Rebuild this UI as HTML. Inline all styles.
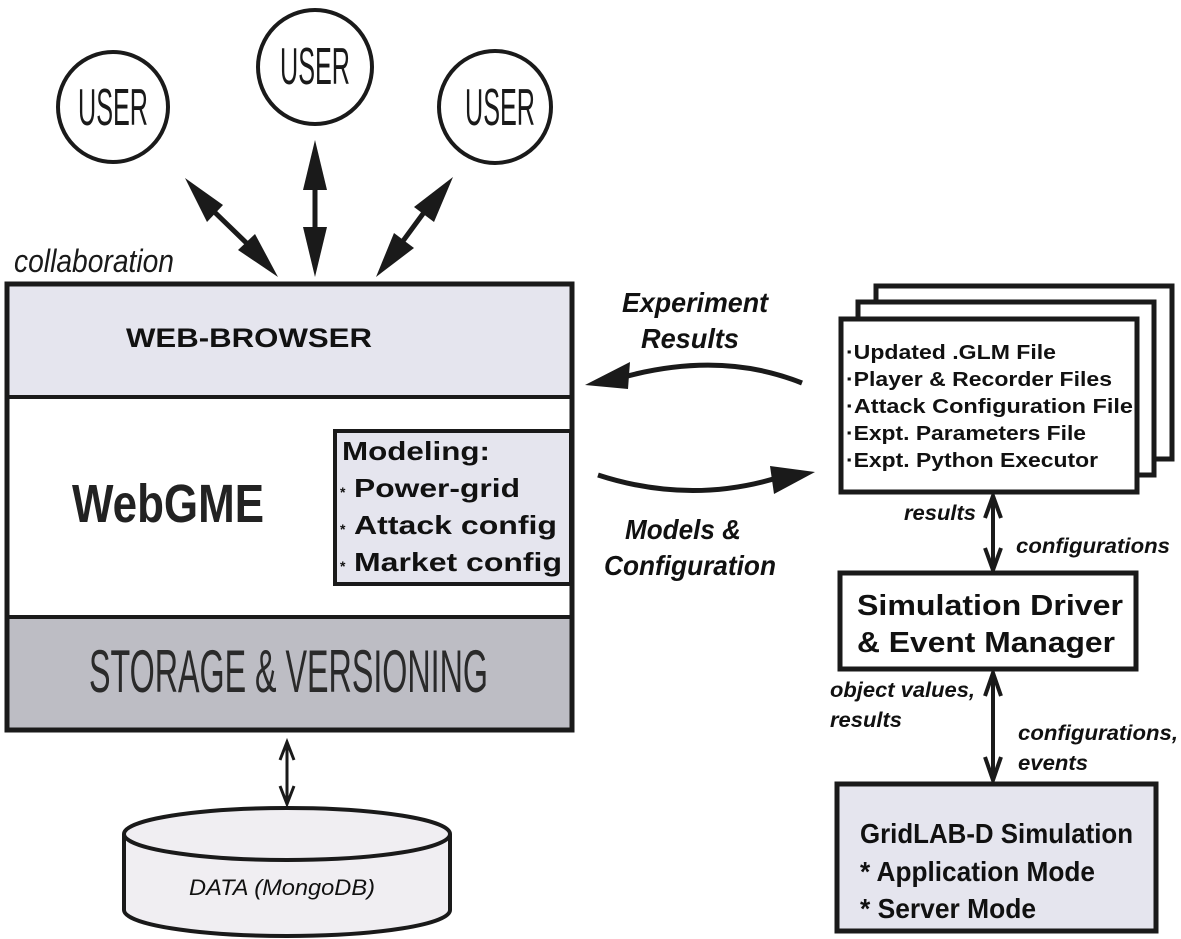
<!DOCTYPE html>
<html><head><meta charset="utf-8"><style>body{margin:0;background:#fff}svg{display:block}</style></head><body>
<svg width="1181" height="939" viewBox="0 0 1181 939" xmlns="http://www.w3.org/2000/svg" font-family="Liberation Sans, sans-serif">
<!-- users -->
<g fill="#fff" stroke="#1a1a1a" stroke-width="4">
<circle cx="113" cy="107" r="55"/>
<circle cx="315" cy="67" r="57"/>
<circle cx="495" cy="107" r="56"/>
</g>
<g font-size="52" fill="#1a1a1a">
<text x="113" y="125" text-anchor="middle" textLength="70" lengthAdjust="spacingAndGlyphs">USER</text>
<text x="315" y="84" text-anchor="middle" textLength="70" lengthAdjust="spacingAndGlyphs">USER</text>
<text x="500" y="125" text-anchor="middle" textLength="70" lengthAdjust="spacingAndGlyphs">USER</text>
</g>
<!-- user arrows -->
<g stroke="#1a1a1a" stroke-width="5" fill="#1a1a1a">
<line x1="200" y1="198" x2="262" y2="258"/>
<polygon points="185,178 223,205 207,222" stroke="none"/>
<polygon points="278,277 238,250 255,234" stroke="none"/>
<line x1="315" y1="170" x2="315" y2="250"/>
<polygon points="315,140 303,190 327,190" stroke="none"/>
<polygon points="315,277 303,227 327,227" stroke="none"/>
<line x1="436" y1="196" x2="392" y2="256"/>
<polygon points="453,177 434,222 414,207" stroke="none"/>
<polygon points="376,277 394,233 414,248" stroke="none"/>
</g>
<text x="14" y="272" font-size="32" font-style="italic" fill="#1a1a1a" textLength="160" lengthAdjust="spacingAndGlyphs">collaboration</text>
<!-- main box -->
<rect x="7" y="284" width="565" height="113" fill="#e5e5ee"/>
<rect x="7" y="397" width="565" height="220" fill="#fff"/>
<rect x="7" y="617" width="565" height="113" fill="#bdbdc4"/>
<rect x="7" y="284" width="565" height="446" fill="none" stroke="#1a1a1a" stroke-width="5"/>
<line x1="7" y1="397" x2="572" y2="397" stroke="#1a1a1a" stroke-width="4"/>
<line x1="7" y1="617" x2="572" y2="617" stroke="#1a1a1a" stroke-width="4"/>
<text x="126" y="347" font-size="27" font-weight="bold" fill="#111" textLength="246" lengthAdjust="spacingAndGlyphs">WEB-BROWSER</text>
<text x="72" y="522" font-size="54" font-weight="bold" fill="#222" textLength="192" lengthAdjust="spacingAndGlyphs">WebGME</text>
<text x="89" y="692" font-size="60" fill="#2a2a2a" textLength="399" lengthAdjust="spacingAndGlyphs">STORAGE &amp; VERSIONING</text>
<!-- modeling -->
<rect x="335" y="431" width="236" height="153" fill="#e5e5ee" stroke="#1a1a1a" stroke-width="4"/>
<g font-size="26" font-weight="bold" fill="#111">
<text x="342" y="460" textLength="148" lengthAdjust="spacingAndGlyphs">Modeling:</text>
<text x="340" y="497" font-size="14">*</text><text x="354" y="497" textLength="166" lengthAdjust="spacingAndGlyphs">Power-grid</text>
<text x="340" y="534" font-size="14">*</text><text x="354" y="534" textLength="203" lengthAdjust="spacingAndGlyphs">Attack config</text>
<text x="340" y="571" font-size="14">*</text><text x="354" y="571" textLength="208" lengthAdjust="spacingAndGlyphs">Market config</text>
</g>
<!-- db arrow -->
<g stroke="#1a1a1a" stroke-width="3" fill="none">
<line x1="287" y1="745" x2="287" y2="800"/>
<polyline points="280,760 287,742 294,760"/>
<polyline points="280,786 287,804 294,786"/>
</g>
<!-- cylinder -->
<path d="M124,834 L124,910 A163,26 0 0 0 450,910 L450,834" fill="#f0eef2" stroke="#1a1a1a" stroke-width="4"/>
<ellipse cx="287" cy="834" rx="163" ry="26" fill="#f0eef2" stroke="#1a1a1a" stroke-width="4"/>
<text x="282" y="895" text-anchor="middle" font-size="22" font-style="italic" fill="#111" textLength="186" lengthAdjust="spacingAndGlyphs">DATA (MongoDB)</text>
<!-- curved arrows -->
<path d="M802,383 Q720,350 620,378" fill="none" stroke="#1a1a1a" stroke-width="5"/>
<polygon points="585,385 630,362 628,389" fill="#1a1a1a"/>
<path d="M598,475 Q690,505 780,477" fill="none" stroke="#1a1a1a" stroke-width="5"/>
<polygon points="815,472 770,466 774,494" fill="#1a1a1a"/>
<g font-size="28" font-weight="bold" font-style="italic" fill="#111">
<text x="695" y="312" text-anchor="middle" textLength="146" lengthAdjust="spacingAndGlyphs">Experiment</text>
<text x="690" y="348" text-anchor="middle" textLength="98" lengthAdjust="spacingAndGlyphs">Results</text>
<text x="683" y="539" text-anchor="middle" textLength="116" lengthAdjust="spacingAndGlyphs">Models &amp;</text>
<text x="690" y="575" text-anchor="middle" textLength="172" lengthAdjust="spacingAndGlyphs">Configuration</text>
</g>
<!-- stacked docs -->
<g fill="#fff" stroke="#1a1a1a" stroke-width="5">
<rect x="876" y="286" width="296" height="173"/>
<rect x="858" y="302" width="296" height="173"/>
<rect x="841" y="319" width="296" height="173"/>
</g>
<g font-size="20" font-weight="bold" fill="#111">
<text x="846" y="359" textLength="210" lengthAdjust="spacingAndGlyphs">·Updated .GLM File</text>
<text x="846" y="386" textLength="266" lengthAdjust="spacingAndGlyphs">·Player &amp; Recorder Files</text>
<text x="846" y="413" textLength="287" lengthAdjust="spacingAndGlyphs">·Attack Configuration File</text>
<text x="846" y="440" textLength="240" lengthAdjust="spacingAndGlyphs">·Expt. Parameters File</text>
<text x="846" y="467" textLength="252" lengthAdjust="spacingAndGlyphs">·Expt. Python Executor</text>
</g>
<!-- vertical arrows right -->
<g stroke="#1a1a1a" stroke-width="4" fill="none">
<line x1="993" y1="498" x2="993" y2="568"/>
<polyline points="985,518 993,496 1001,518"/>
<polyline points="985,548 993,570 1001,548"/>
<line x1="993" y1="674" x2="993" y2="778"/>
<polyline points="985,696 993,673 1001,696"/>
<polyline points="985,757 993,780 1001,757"/>
</g>
<g font-size="21" font-weight="bold" font-style="italic" fill="#111">
<text x="904" y="520" textLength="72" lengthAdjust="spacingAndGlyphs">results</text>
<text x="1016" y="553" textLength="154" lengthAdjust="spacingAndGlyphs">configurations</text>
<text x="830" y="697" textLength="145" lengthAdjust="spacingAndGlyphs">object values,</text>
<text x="830" y="727" textLength="72" lengthAdjust="spacingAndGlyphs">results</text>
<text x="1018" y="740" textLength="160" lengthAdjust="spacingAndGlyphs">configurations,</text>
<text x="1018" y="770" textLength="70" lengthAdjust="spacingAndGlyphs">events</text>
</g>
<!-- sim driver -->
<rect x="840" y="573" width="296" height="96" fill="#fff" stroke="#1a1a1a" stroke-width="5"/>
<g font-size="29" fill="#111" font-weight="bold">
<text x="857" y="615" textLength="266" lengthAdjust="spacingAndGlyphs">Simulation Driver</text>
<text x="857" y="652" textLength="258" lengthAdjust="spacingAndGlyphs">&amp; Event Manager</text>
</g>
<!-- gridlab -->
<rect x="837" y="784" width="319" height="147" fill="#e5e5ee" stroke="#1a1a1a" stroke-width="5"/>
<g font-size="28" font-weight="bold" fill="#111">
<text x="860" y="843" textLength="273" lengthAdjust="spacingAndGlyphs">GridLAB-D Simulation</text>
<text x="860" y="881" textLength="235" lengthAdjust="spacingAndGlyphs">* Application Mode</text>
<text x="860" y="918" textLength="176" lengthAdjust="spacingAndGlyphs">* Server Mode</text>
</g>
</svg>
</body></html>
